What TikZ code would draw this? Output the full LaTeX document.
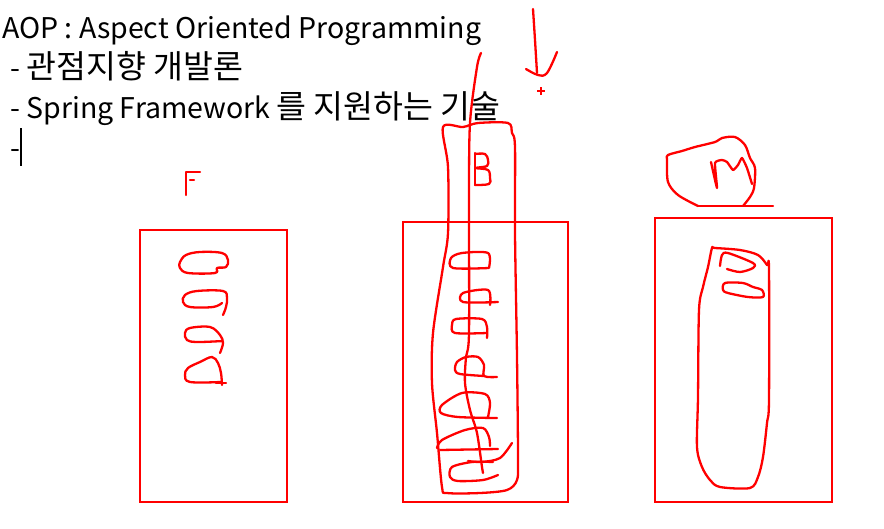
\documentclass[tikz,border=0pt]{standalone}
\usepackage{fontspec}
\setmainfont{Noto Sans CJK KR}
\newfontfamily\krfont{Noto Sans CJK KR}[Scale=1.14]
\tikzset{
  >=latex,
}
\tikzstyle{box}=[draw=red,line width=2pt]
\tikzstyle{pen}=[red,line width=2.3pt,line cap=round,line join=round]
\tikzstyle{note}=[anchor=base west,inner sep=0pt,font=\fontsize{28.5}{32}\selectfont]

\begin{document}
\begin{tikzpicture}[x=1pt,y=-1pt]
    \useasboundingbox (0,0) rectangle (884,528);
    % typed notes
    \node[note] (title) at (2,38) {AOP : Aspect Oriented Programming};
    \node[note] (meaning) at (10,78) {- {\krfont 관점지향 개발론}};
    \node[note] (spring) at (10,118) {- Spring Framework {\krfont 를 지원하는 기술}};
    \node[note] (blank) at (10,158) {-};
    \draw[line width=1.3pt] (21,128)--(21,166);
    % F
    \draw[box] (140,230) rectangle (287,502);
    \draw[pen] (200,172)--(186,172)--(186,195);
    \draw[pen] (190,180)--(194,180);
    \draw[pen] plot[smooth cycle,tension=.6] coordinates {(180,262) (186,255) (200,252) (222,253) (228,260) (226,267) (217,268) (215,273) (188,273) (180,268)};
    \draw[pen] plot[smooth,tension=.6] coordinates {(222,303) (213,307) (190,307) (183,302) (185,295) (197,291) (223,291) (227,298) (226,307) (223,315)};
    \draw[pen] plot[smooth,tension=.6] coordinates {(223,341) (197,342) (187,340) (185,333) (190,328) (210,327) (220,335) (223,343) (220,353)};
    \draw[pen] plot[smooth,tension=.6] coordinates {(221,382) (190,382) (185,375) (188,368) (200,362) (212,357) (218,363) (221,373) (222,385)};
    \draw[pen] (216,383)--(226,383);
    % B
    \draw[box] (403,222) rectangle (568,502);
    \draw[pen] plot[smooth,tension=.6] coordinates {(475,154) (485,154) (488,160) (487,166) (476,168) (488,170) (490,178) (489,184) (475,185)};
    \draw[pen] (475,153)--(475,185);
    \draw[pen] plot[smooth cycle,tension=.5] coordinates {(443,127) (463,127) (478,123) (508,123) (512,133) (515,147) (515,233) (517,357) (518,457) (517,480) (507,490) (480,493) (447,493) (442,487) (437,433) (432,383) (433,333) (443,267) (448,233) (448,167)};
    \draw[pen] plot[smooth,tension=.5] coordinates {(481,53) (477,67) (470,123) (469,200) (469,333) (466,357) (465,383) (470,410) (477,433) (482,467) (483,473)};
    \draw[pen] plot[smooth,tension=.5] coordinates {(489,268) (453,268) (451,258) (462,253) (488,253) (489,268)};
    \draw[pen] plot[smooth,tension=.5] coordinates {(498,302) (463,302) (463,293) (488,290) (490,305)};
    \draw[pen] plot[smooth,tension=.5] coordinates {(487,333) (455,333) (452,325) (456,319) (482,319) (487,327) (487,338)};
    \draw[pen] plot[smooth,tension=.5] coordinates {(497,377) (484,376) (484,365) (478,357) (466,357) (457,362) (455,370) (460,374) (484,376)};
    \draw[pen] plot[smooth,tension=.5] coordinates {(497,418) (458,417) (441,413) (442,405) (462,393) (485,394) (490,403) (488,417)};
    \draw[pen] plot[smooth,tension=.5] coordinates {(437,448) (442,440) (465,430) (483,428) (489,437) (490,446)};
    \draw[pen] (440,450)--(498,449);
    \draw[pen] plot[smooth,tension=.5] coordinates {(512,443) (500,458) (482,462) (468,461)};
    \draw[pen] plot[smooth,tension=.5] coordinates {(498,475) (483,480) (458,481) (450,477) (452,467) (472,462) (493,462)};
    % pointer above B
    \draw[pen] plot[smooth,tension=.5] coordinates {(533,9) (535,40) (537,73)};
    \draw[pen] plot[smooth,tension=.6] coordinates {(526,69) (538,75) (547,73) (557,52)};
    \draw[red,line width=1.3pt] (537,91)--(545,91) (541,87)--(541,95);
    % M
    \draw[box] (655,218) rectangle (832,502);
    \draw[pen] plot[smooth,tension=.5] coordinates {(743,206) (750,197) (754,188) (755,168) (750,158) (745,145) (735,137) (722,138) (715,142) (695,147) (682,151) (668,155) (667,160) (668,182) (678,195) (698,206)};
    \draw[pen] (698,206)--(773,206);
    \draw[pen] plot[smooth,tension=.3] coordinates {(711,162) (717,188) (715,163) (722,160) (727,162) (733,170) (738,165) (742,158) (747,168) (752,184)};
    \draw[pen] plot[smooth cycle,tension=.5] coordinates {(712,248) (708,267) (703,287) (699,310) (698,397) (697,447) (702,467) (710,480) (720,487) (750,488) (758,477) (763,457) (767,423) (769,400) (769,270) (767,265) (758,255) (740,250) (715,248)};
    \draw[pen] plot[smooth,tension=.5] coordinates {(720,266) (722,255) (728,253) (753,263) (753,268) (740,272) (727,269)};
    \draw[pen] plot[smooth cycle,tension=.5] coordinates {(725,283) (743,283) (753,287) (762,290) (763,297) (748,297) (728,293) (723,290)};
\end{tikzpicture}
\end{document}
